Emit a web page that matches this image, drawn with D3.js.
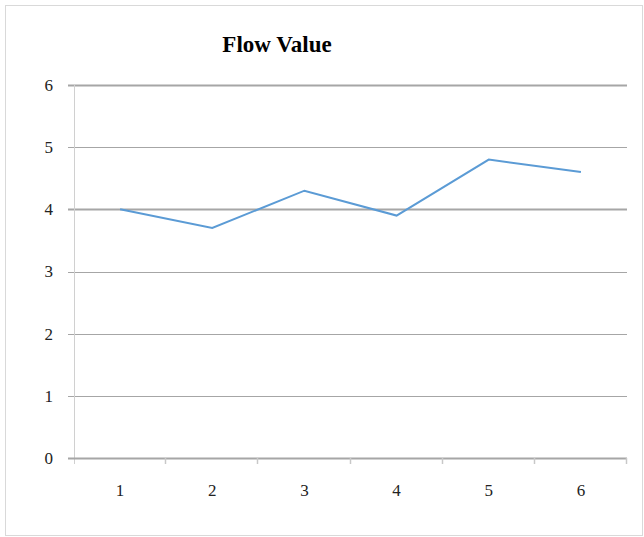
<!DOCTYPE html>
<html>
<head>
<meta charset="utf-8">
<script src="https://cdn.jsdelivr.net/npm/d3@7"></script>
<style>
  body { margin: 0; background: #fff; }
  svg text { font-family: "Liberation Serif", "Times New Roman", serif; }
</style>
</head>
<body>
<svg id="chart" width="644" height="537"></svg>
<script>
// chart data
const categories = [1, 2, 3, 4, 5, 6];
const flowValues = [4.0, 3.7, 4.3, 3.9, 4.8, 4.6];
const yTicks = [0, 1, 2, 3, 4, 5, 6];
const chartTitle = "Flow Value";

const svg = d3.select("#chart");

// outer frame
svg.append("rect")
    .attr("x", 5.5).attr("y", 5.5)
    .attr("width", 637).attr("height", 530)
    .attr("fill", "#fff").attr("stroke", "#d9d9d9").attr("stroke-width", 1);

const margin = {top: 85, left: 74, right: 17, bottom: 79};
const w = 644 - margin.left - margin.right;
const h = 537 - margin.top - margin.bottom;
const g = svg.append("g").attr("transform", `translate(${margin.left},${margin.top})`);

const x = d3.scaleBand().domain(categories).range([0, w]);
const y = d3.scaleLinear().domain([0, 6]).range([h, 0]);

// gridlines
g.append("g").selectAll("line")
    .data(yTicks.filter(d => d > 0))
    .join("line")
    .attr("x1", -6).attr("x2", w)
    .attr("y1", d => Math.round(y(d)) + 0.5).attr("y2", d => Math.round(y(d)) + 0.5)
    .attr("stroke", "#a6a6a6")
    .attr("stroke-width", d => (d === 6 || d === 4) ? 2 : 1);

// y axis line
g.append("line")
    .attr("x1", 0.5).attr("x2", 0.5).attr("y1", 0).attr("y2", h + 6)
    .attr("stroke", "#d0d0d0").attr("stroke-width", 1);

// x axis baseline with ticks
g.append("line")
    .attr("x1", -6).attr("x2", w).attr("y1", h + 0.5).attr("y2", h + 0.5)
    .attr("stroke", "#a6a6a6").attr("stroke-width", 2);
const bounds = categories.map(c => x(c)).concat([w]);
g.append("g").selectAll("line")
    .data(bounds.slice(1))
    .join("line")
    .attr("x1", d => Math.round(d) - 0.5).attr("x2", d => Math.round(d) - 0.5)
    .attr("y1", h).attr("y2", h + 6)
    .attr("stroke", "#c8c8c8").attr("stroke-width", 1.5);

// y labels
g.append("g").selectAll("text")
    .data(yTicks)
    .join("text")
    .attr("x", -21).attr("y", d => y(d))
    .attr("dy", "0.35em")
    .attr("text-anchor", "end")
    .attr("font-size", 17).attr("fill", "#222")
    .text(d => d);

// x labels
g.append("g").selectAll("text")
    .data(categories)
    .join("text")
    .attr("x", d => x(d) + x.bandwidth() / 2)
    .attr("y", h + 38)
    .attr("text-anchor", "middle")
    .attr("font-size", 17).attr("fill", "#222")
    .text(d => d);

// series line
const line = d3.line()
    .x((d, i) => x(categories[i]) + x.bandwidth() / 2)
    .y(d => y(d));
g.append("path")
    .datum(flowValues)
    .attr("fill", "none")
    .attr("stroke", "#5b9bd5")
    .attr("stroke-width", 2)
    .attr("d", line);

// title
svg.append("text")
    .attr("x", 277).attr("y", 52)
    .attr("text-anchor", "middle")
    .attr("font-size", 23).attr("font-weight", "bold").attr("fill", "#000")
    .text(chartTitle);
</script>
</body>
</html>
